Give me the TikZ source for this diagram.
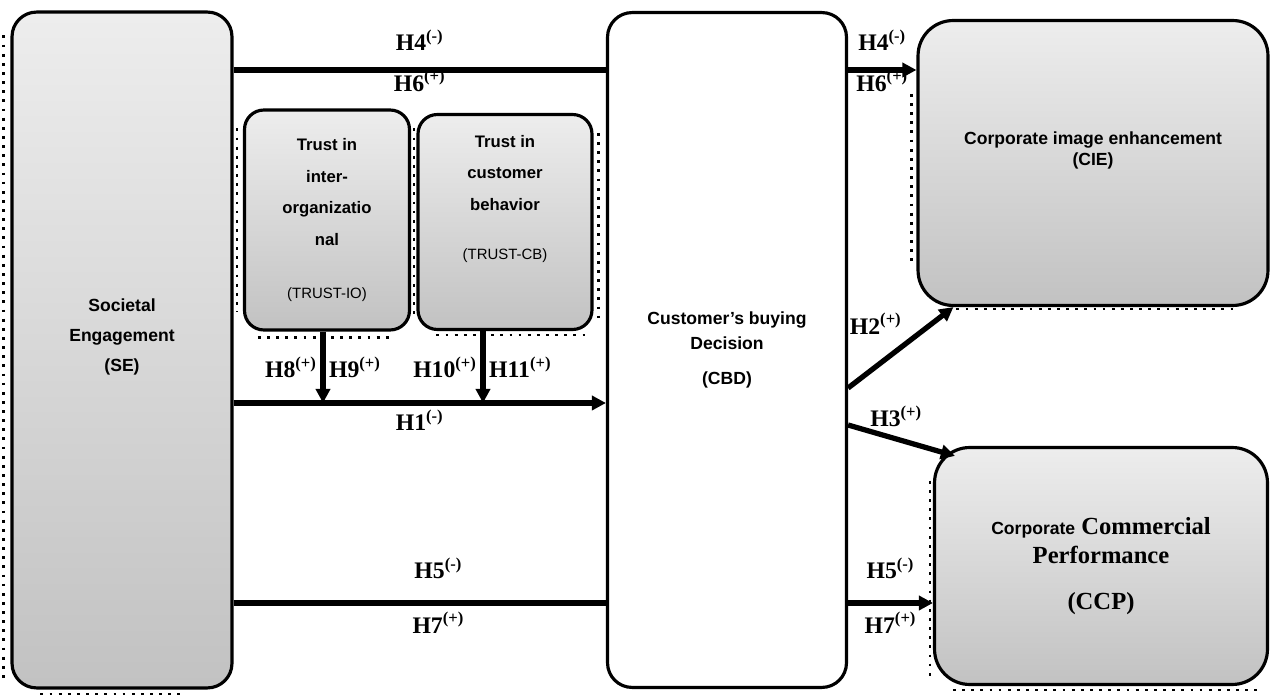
\documentclass[tikz,border=0pt]{standalone}
\usepackage{fontspec}
\setmainfont{Liberation Serif}
\setsansfont{Liberation Sans}
\usetikzlibrary{positioning,arrows.meta,calc}

\begin{document}
\begin{tikzpicture}[x=0.02cm, y=-0.02cm, every node/.style={font=\sffamily\bfseries\fontsize{10}{17}\selectfont}, box/.style={draw, line width=1.8pt, rounded corners=14pt, align=center, top color=black!7, bottom color=black!24}, plain/.style={draw, line width=1.8pt, rounded corners=14pt, align=center, fill=white}, lab/.style={font=\rmfamily\bfseries\fontsize{13.5}{14}\selectfont, inner sep=1pt}, arr/.style={-{Triangle[length=8pt,width=8pt]}, line width=3pt}, link/.style={line width=3pt}, shade/.style={line width=1.6pt, dash pattern=on 1.6pt off 3.6pt}]
\useasboundingbox (0,0) rectangle (1271,695);
% boxes
\node[box, minimum width=4.4cm, minimum height=13.52cm] (se) at (122,350) {Societal\\Engagement\\(SE)\\\mbox{}};
\node[box, rounded corners=11pt, minimum width=3.3cm, minimum height=4.4cm, font=\sffamily\bfseries\fontsize{9.5}{18}\selectfont] (tio) at (327,220) {Trust in\\inter-\\organizatio\\nal\\[12pt]{\mdseries\fontsize{8.5}{10}\selectfont(TRUST-IO)}};
\node[box, rounded corners=11pt, minimum width=3.48cm, minimum height=4.3cm, font=\sffamily\bfseries\fontsize{9.5}{18}\selectfont] (tcb) at (505,222) {Trust in\\customer\\behavior\\[10pt]{\mdseries\fontsize{8.5}{10}\selectfont(TRUST-CB)}\\[10pt]\mbox{}};
\node[plain, minimum width=4.78cm, minimum height=13.5cm, font=\sffamily\bfseries\fontsize{10}{14}\selectfont] (cbd) at (727,350) {Customer’s buying\\Decision\\[6pt](CBD)};
\node[box, rounded corners=20pt, minimum width=7cm, minimum height=5.7cm, font=\sffamily\bfseries\fontsize{10}{12}\selectfont] (cie) at (1093,163) {Corporate image enhancement\\(CIE)\\[4pt]\mbox{}};
\node[box, rounded corners=20pt, minimum width=6.66cm, minimum height=4.74cm, font=\rmfamily\bfseries\fontsize{14}{16.5}\selectfont] (ccp) at (1101,566) {{\sffamily\fontsize{10}{12}\selectfont Corporate} Commercial\\Performance\\[10pt](CCP)};
% shadow dots
\draw[shade] ($(se.north west)+(-7,25)$) -- ($(se.south west)+(-7,-8)$);
\draw[shade] ($(se.south west)+(30,5)$) -- ($(se.south west)+(170,5)$);
\draw[shade] ($(tio.north west)+(-6,20)$) -- ($(tio.south west)+(-6,-20)$);
\draw[shade] ($(tio.north east)+(3,20)$) -- ($(tio.south east)+(3,-15)$);
\draw[shade] ($(tio.south west)+(15,6)$) -- ($(tio.south east)+(-20,6)$);
\draw[shade] ($(tcb.north east)+(5,20)$) -- ($(tcb.south east)+(5,-10)$);
\draw[shade] ($(tcb.south west)+(20,4)$) -- ($(tcb.south east)+(-5,4)$);
\draw[shade] ($(cie.north west)+(-5,75)$) -- ($(cie.south west)+(-5,-40)$);
\draw[shade] ($(cie.south west)+(40,2)$) -- ($(cie.south east)+(-35,2)$);
\draw[shade] ($(ccp.north west)+(-3,35)$) -- ($(ccp.south west)+(-3,-5)$);
\draw[shade] ($(ccp.south west)+(20,4)$) -- ($(ccp.south east)+(-8,4)$);
% rows
\coordinate (ytop) at (0,70);
\coordinate (ymid) at (0,403);
\coordinate (ybot) at (0,603);
\coordinate (yh2) at (0,388);
\coordinate (yh3) at (0,425);
\coordinate (iofoot) at ($(tio.south)+(-4,0)$);
\coordinate (cbfoot) at ($(tcb.south)+(-22,0)$);
% connectors
\draw[link] (se.east |- ytop) -- node[lab, above=3mm]{H4\textsuperscript{(-)}} node[lab, below=-0.8mm]{H6\textsuperscript{(+)}} (cbd.west |- ytop);
\draw[arr] (se.east |- ymid) -- node[lab, below=0.5mm]{H1\textsuperscript{(-)}} (cbd.west |- ymid);
\draw[link] (se.east |- ybot) -- node[lab, pos=0.55, above=4mm]{H5\textsuperscript{(-)}} node[lab, pos=0.55, below=1mm]{H7\textsuperscript{(+)}} (cbd.west |- ybot);
\draw[arr] (iofoot) -- node[lab, left=1pt]{H8\textsuperscript{(+)}} node[lab, right=1pt]{H9\textsuperscript{(+)}} (iofoot |- ymid);
\draw[arr] (cbfoot) -- node[lab, left=1pt]{H10\textsuperscript{(+)}} node[lab, right=1pt]{H11\textsuperscript{(+)}} (cbfoot |- ymid);
\draw[arr] (cbd.east |- ytop) -- node[lab, above=3mm]{H4\textsuperscript{(-)}} node[lab, below=-0.8mm]{H6\textsuperscript{(+)}} (cie.west |- ytop);
\draw[arr] (cbd.east |- yh2) -- node[lab, pos=0.55, above left=1mm and 0mm]{H2\textsuperscript{(+)}} ($(cie.south west)+(37,0)$);
\draw[arr] (cbd.east |- yh3) -- node[lab, pos=0.45, above=1.5mm]{H3\textsuperscript{(+)}} ($(ccp.north west)+(22,10)$);
\draw[arr] (cbd.east |- ybot) -- node[lab, above=4mm]{H5\textsuperscript{(-)}} node[lab, below=1mm]{H7\textsuperscript{(+)}} (ccp.west |- ybot);
\end{tikzpicture}
\end{document}
